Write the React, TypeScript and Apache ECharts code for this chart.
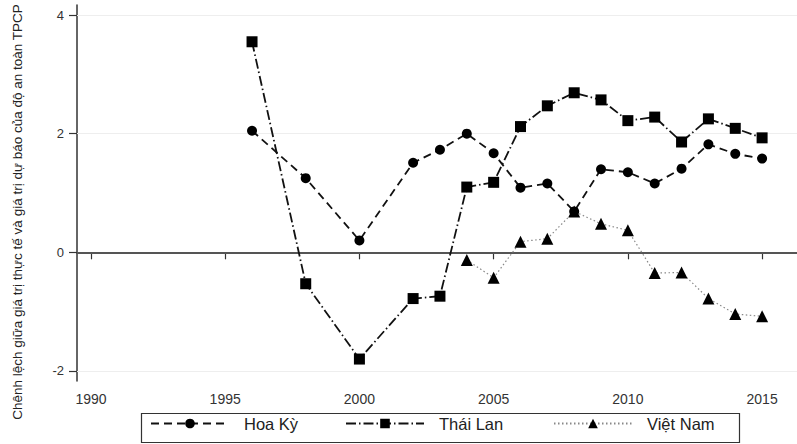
import React, { useEffect, useRef } from "react";
import * as echarts from "echarts";

const yearsAll = [1996, 1998, 2000, 2002, 2003, 2004, 2005, 2006, 2007, 2008, 2009, 2010, 2011, 2012, 2013, 2014, 2015];
const hoaKy = [2.05, 1.25, 0.2, 1.51, 1.73, 2.0, 1.67, 1.09, 1.16, 0.69, 1.4, 1.35, 1.16, 1.41, 1.82, 1.66, 1.58];
const thaiLan = [3.55, -0.53, -1.8, -0.78, -0.74, 1.1, 1.18, 2.12, 2.47, 2.69, 2.57, 2.22, 2.28, 1.86, 2.25, 2.09, 1.93];
const yearsVN = [2004, 2005, 2006, 2007, 2008, 2009, 2010, 2011, 2012, 2013, 2014, 2015];
const vietNam = [-0.13, -0.43, 0.18, 0.23, 0.69, 0.48, 0.37, -0.35, -0.34, -0.78, -1.04, -1.08];

const xTicks = [1990, 1995, 2000, 2005, 2010, 2015];
const yTicks = [-2, 0, 2, 4];
const seriesNames = ["Hoa Kỳ", "Thái Lan", "Việt Nam"];
const yTitle = "Chênh lệch giữa giá trị thực tế và giá trị dự báo của độ an toàn TPCP";

const FONT = "Liberation Sans, Arial, sans-serif";

export default function App() {
  const ref = useRef<HTMLDivElement>(null);
  useEffect(() => {
    if (!ref.current) return;
    const chart = echarts.init(ref.current, undefined, { renderer: "svg" });
    const pair = (xs: number[], ys: number[]) => xs.map((x, i) => [x, ys[i]]);
    const legendBase = {
      top: 415,
      itemWidth: 78,
      itemHeight: 12,
      itemGap: 0,
      padding: 0,
      textStyle: { fontFamily: FONT, fontSize: 16.5, color: "#222", padding: [0, 0, 0, 10] },
    };
    chart.setOption({
      animation: false,
      backgroundColor: "#fff",
      grid: { left: 77, top: 5, right: 0, bottom: 63, containLabel: false },
      xAxis: {
        type: "value",
        min: 1989.48,
        max: 2016.3,
        axisLine: { lineStyle: { color: "#333", width: 1.5 } },
        axisTick: { show: true, length: 7, customValues: xTicks, lineStyle: { color: "#333", width: 1.2 } },
        axisLabel: {
          customValues: xTicks,
          margin: 11,
          fontFamily: FONT,
          fontSize: 14,
          color: "#333",
          formatter: (v: number) => String(v),
        },
        splitLine: { show: false },
      },
      yAxis: {
        type: "value",
        min: -2.17,
        max: 4.17,
        axisLine: { show: true, lineStyle: { color: "#333", width: 1.5 } },
        axisTick: { show: true, length: 8, customValues: yTicks, lineStyle: { color: "#333", width: 1.2 } },
        axisLabel: { customValues: yTicks, margin: 13, fontFamily: FONT, fontSize: 13, color: "#333" },
        splitLine: { show: false },
      },
      legend: [
        { ...legendBase, left: 150, data: [seriesNames[0]] },
        { ...legendBase, left: 345, data: [seriesNames[1]] },
        { ...legendBase, left: 553, data: [seriesNames[2]] },
      ],
      graphic: [
        {
          type: "rect",
          shape: { x: 141.5, y: 413.5, width: 598, height: 29 },
          style: { fill: "none", stroke: "#333", lineWidth: 1.2 },
          z: 100,
        },
        {
          type: "text",
          x: 17,
          y: 212,
          rotation: Math.PI / 2,
          style: {
            text: yTitle,
            fontFamily: FONT,
            fontSize: 13.5,
            fill: "#222",
            align: "center",
            verticalAlign: "middle",
          },
        },
      ],
      series: [
        {
          name: seriesNames[0],
          type: "line",
          data: pair(yearsAll, hoaKy),
          symbol: "circle",
          symbolSize: 10,
          itemStyle: { color: "#000" },
          lineStyle: { color: "#111", width: 1.8, type: [8, 5] },
          markLine: {
            silent: true,
            symbol: "none",
            label: { show: false },
            data: [
              { yAxis: 0, lineStyle: { color: "#555", width: 2, type: "solid" } },
              { yAxis: 2, lineStyle: { color: "#eee", width: 1, type: "solid" } },
              { yAxis: 4, lineStyle: { color: "#eee", width: 1, type: "solid" } },
              { yAxis: -2, lineStyle: { color: "#eee", width: 1, type: "solid" } },
            ],
            z: 1,
          },
          z: 3,
        },
        {
          name: seriesNames[1],
          type: "line",
          data: pair(yearsAll, thaiLan),
          symbol: "rect",
          symbolSize: 11,
          itemStyle: { color: "#000" },
          lineStyle: { color: "#111", width: 1.8, type: [10, 3, 1.5, 3] },
          z: 3,
        },
        {
          name: seriesNames[2],
          type: "line",
          data: pair(yearsVN, vietNam),
          symbol: "triangle",
          symbolSize: 12,
          itemStyle: { color: "#000" },
          lineStyle: { color: "#888", width: 1.2, type: [1.5, 2.5] },
          z: 3,
        },
      ],
    });
    return () => chart.dispose();
  }, []);
  return (
    <div
      ref={ref}
      style={{ position: "fixed", left: 0, top: 0, width: 797, height: 444, background: "#fff" }}
    />
  );
}
